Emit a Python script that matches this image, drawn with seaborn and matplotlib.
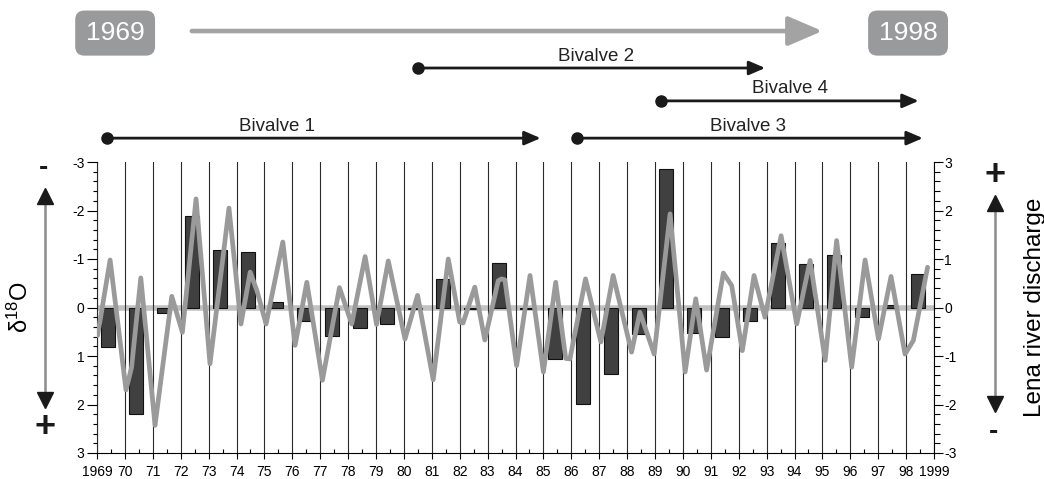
import matplotlib
matplotlib.use("Agg")
import matplotlib.pyplot as plt
import matplotlib.transforms as mtransforms
from matplotlib.ticker import MultipleLocator, FixedLocator
import pandas as pd
import seaborn as sns

# bars: bivalve delta18O anomaly per year (left axis, inverted)
years = list(range(1969, 1999))
d18o = [0.82, 2.20, 0.11, -1.88, -1.19, -1.14, -0.12, 0.27, 0.58, 0.43,
        0.34, 0.03, -0.59, 0.04, -0.91, 0.03, 1.06, 1.99, 1.38, 0.54,
        -2.85, 0.53, 0.61, 0.27, -1.33, -0.90, -1.09, 0.20, -0.06, -0.69]

# grey curve: Lena river discharge anomaly (right axis)
disch_t = [1969.02, 1969.47, 1970.04, 1970.24, 1970.57, 1971.08, 1971.68, 1972.06,
           1972.55, 1973.05, 1973.73, 1974.16, 1974.49, 1974.73, 1975.06, 1975.66,
           1976.10, 1976.52, 1977.08, 1977.69, 1978.13, 1978.61, 1979.02, 1979.44,
           1980.04, 1980.49, 1981.05, 1981.59, 1982.00, 1982.12, 1982.54, 1982.90,
           1983.38, 1983.50, 1983.62, 1984.04, 1984.52, 1985.00, 1985.44, 1985.80,
           1985.95, 1986.51, 1987.06, 1987.50, 1988.16, 1988.46, 1988.97, 1989.54,
           1990.08, 1990.46, 1990.85, 1991.45, 1991.75, 1992.13, 1992.55, 1992.94,
           1993.52, 1994.08, 1994.56, 1995.10, 1995.51, 1996.05, 1996.53, 1997.01,
           1997.46, 1997.96, 1998.26, 1998.77]
disch_v = [-0.58, 0.98, -1.70, -1.23, 0.61, -2.43, 0.23, -0.51,
           2.24, -1.16, 2.05, -0.34, 0.73, 0.35, -0.34, 1.35,
           -0.78, 0.52, -1.50, 0.41, -0.34, 1.05, -0.35, 0.96,
           -0.65, 0.25, -1.49, 1.00, -0.30, -0.32, 0.42, -0.67,
           0.55, 0.59, 0.57, -1.20, 0.66, -1.33, 0.52, -1.05,
           -1.06, 0.59, -0.71, 0.66, -0.92, -0.10, -0.96, 1.93,
           -1.33, 0.18, -1.29, 0.71, 0.45, -0.89, 0.66, -0.20,
           1.48, -0.34, 0.97, -1.09, 1.38, -1.23, 0.98, -0.65,
           0.64, -0.96, -0.68, 0.83]

# record coverage of each shell (years)
bivalve_names = ["Bivalve 1", "Bivalve 2", "Bivalve 3", "Bivalve 4"]
bivalve_start = [1969.36, 1980.5, 1986.2, 1989.2]
bivalve_end = [1984.9, 1992.95, 1998.6, 1998.45]
period_labels = ["1969", "1998"]

# layout for the annotations above the plot (axes fraction / years)
bivalve_row = [1.082, 1.323, 1.082, 1.21]
bivalve_label_x = [1975.45, 1986.9, 1992.35, 1993.85]
period_box_x = [1969.65, 1998.07]
period_arrow = (1972.4, 1995.0)

plt.rcParams["font.family"] = ["Liberation Sans", "DejaVu Sans"]
plt.rcParams["mathtext.default"] = "regular"
plt.rcParams["axes.unicode_minus"] = False

W, H = 1044, 479
fig = plt.figure(figsize=(W / 100, H / 100), dpi=100)
ax = fig.add_axes([97 / W, 26 / H, 837 / W, 291 / H])

bars = pd.DataFrame({"x": [y + 0.41 for y in years], "d18o": d18o})
ax.axhline(0, color="#c2c2c2", lw=4, zorder=0.5)
sns.barplot(data=bars, x="x", y="d18o", native_scale=True, width=0.5,
            color="#404040", saturation=1, edgecolor="#111111", linewidth=0.8,
            errorbar=None, ax=ax, zorder=1)

ax.set_xlim(1969, 1999)
ax.set_ylim(3, -3)
ax.xaxis.set_major_locator(FixedLocator(range(1969, 2000)))
ax.set_xticklabels(["1969"] + [str(y)[2:] for y in range(1970, 1999)] + ["1999"])
ax.xaxis.set_minor_locator(FixedLocator([y + 0.5 for y in range(1969, 1999)]))
ax.yaxis.set_major_locator(MultipleLocator(1))
ax.yaxis.set_minor_locator(MultipleLocator(0.2))
ax.grid(axis="x", which="major", color="#2a2a2a", lw=0.8)
ax.set_axisbelow(False)
ax.tick_params(axis="x", which="major", direction="out", length=4.5, width=0.8,
               labelsize=10, pad=4)
ax.tick_params(axis="x", which="minor", direction="in", length=3, width=0.8)
ax.tick_params(axis="y", which="major", direction="out", length=7, width=0.8,
               labelsize=10, pad=2)
ax.tick_params(axis="y", which="minor", direction="out", length=3, width=0.8)
ax.set_xlabel("")
ax.set_ylabel(r"δ$^{18}$O", fontsize=17, labelpad=28)
for s in ["top", "right"]:
    ax.spines[s].set_visible(False)
for s in ["left", "bottom"]:
    ax.spines[s].set_linewidth(0.8)

ax2 = ax.twinx()
sns.lineplot(x=disch_t, y=disch_v, color="#9a9a9a", lw=3.4, ax=ax2,
             solid_joinstyle="round", solid_capstyle="round")
ax2.set_ylim(-3, 3)
ax2.yaxis.set_major_locator(MultipleLocator(1))
ax2.yaxis.set_minor_locator(MultipleLocator(0.2))
ax2.tick_params(axis="y", which="major", direction="out", length=6.5, width=0.8,
                labelsize=10, pad=1)
ax2.tick_params(axis="y", which="minor", direction="out", length=4, width=0.8)
ax2.set_ylabel("Lena river discharge", fontsize=17.5, labelpad=48)
for s in ["top", "left", "bottom"]:
    ax2.spines[s].set_visible(False)
ax2.spines["right"].set_linewidth(0.8)

# annotations above the plot: x in years, y in axes fraction
trans = mtransforms.blended_transform_factory(ax.transData, ax.transAxes)
dark = "#1a1a1a"
for name, x0, x1, row, lx in zip(bivalve_names, bivalve_start, bivalve_end,
                                 bivalve_row, bivalve_label_x):
    ax.annotate("", xy=(x1, row), xytext=(x0, row), xycoords=trans, textcoords=trans,
                annotation_clip=False,
                arrowprops=dict(arrowstyle="-|>,head_length=0.65,head_width=0.28",
                                lw=2, color=dark, mutation_scale=15,
                                shrinkA=0, shrinkB=0))
    ax.plot([x0], [row], "o", ms=8, color=dark, transform=trans, clip_on=False)
    ax.text(lx, row + 0.012, name, transform=trans, ha="center", va="bottom",
            fontsize=13.5, color="#222222")

ax.annotate("", xy=(period_arrow[1], 1.45), xytext=(period_arrow[0], 1.45),
            xycoords=trans, textcoords=trans, annotation_clip=False,
            arrowprops=dict(arrowstyle="-|>,head_length=1.4,head_width=0.6",
                            lw=3.3, color="#a3a3a3", mutation_scale=15,
                            shrinkA=0, shrinkB=0))
for lab, bx in zip(period_labels, period_box_x):
    ax.text(bx, 1.443, lab, transform=trans, ha="center", va="center",
            fontsize=19, color="white",
            bbox=dict(boxstyle="round,pad=0.4,rounding_size=0.35",
                      fc="#999a9c", ec="none"))

# sign arrows beside the axes (figure pixel overlay)
ov = fig.add_axes([0, 0, 1, 1])
ov.set_xlim(0, W)
ov.set_ylim(H, 0)
ov.axis("off")
for x, ytop, ybot, top_sign, bot_sign in [(45, 196, 400, "-", "+"),
                                          (995, 203, 404, "+", "-")]:
    ov.plot([x, x], [ytop, ybot], color="#8c8c8c", lw=1.8)
    ov.plot([x], [ytop], marker="^", ms=12, color=dark)
    ov.plot([x], [ybot], marker="v", ms=12, color=dark)
    for sign, yy in [(top_sign, ytop - 28), (bot_sign, ybot + 28)]:
        ov.text(x - (2 if sign == "-" else 0), yy, sign, ha="center", va="center",
                fontsize=26 if sign == "+" else 20, fontweight="bold", color=dark)

fig.savefig("out.png", dpi=100)
